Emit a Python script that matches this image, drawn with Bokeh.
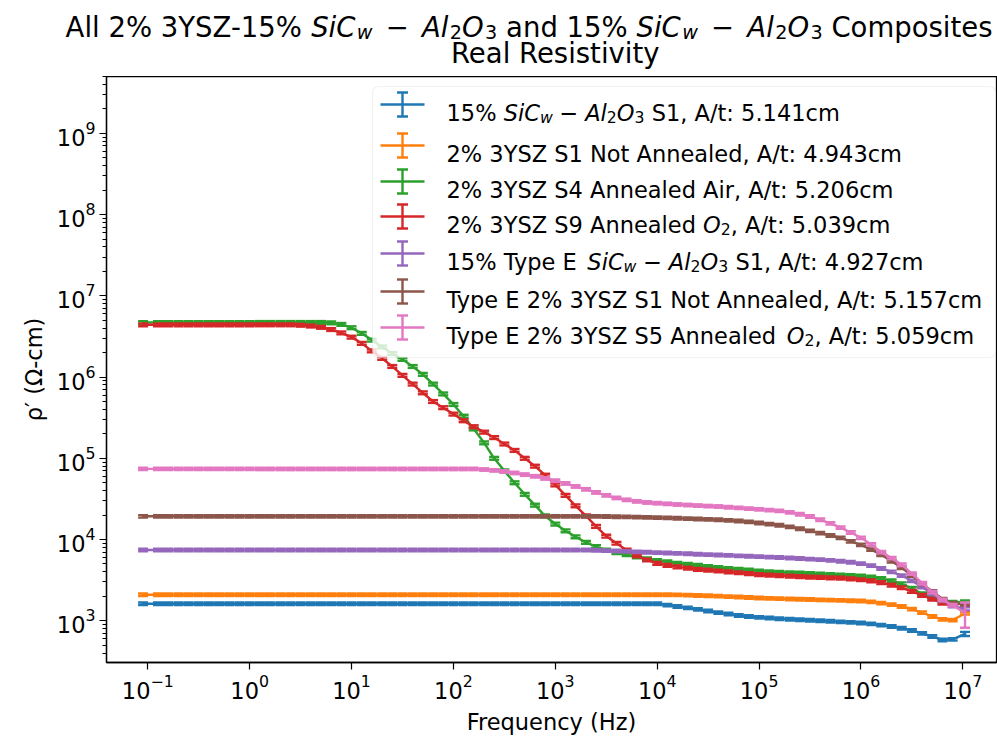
from bokeh.plotting import figure
from bokeh.layouts import column
from bokeh.models import FixedTicker, Label, BoxAnnotation, Arrow, TeeHead, Range1d, LogTickFormatter
from bokeh.embed import file_html
from bokeh.resources import INLINE

# ---------------- data ----------------
freq = [0.09, 0.126, 0.158, 0.2, 0.251, 0.316, 0.398, 0.501, 0.631, 0.794,
        1.0, 1.26, 1.58, 2.0, 2.51, 3.16, 3.98, 5.01, 6.31, 7.94,
        10, 12.6, 15.8, 20, 25.1, 31.6, 39.8, 50.1, 63.1, 79.4,
        100, 126, 158, 200, 251, 316, 398, 501, 631, 794,
        1e3, 1.26e3, 1.58e3, 2e3, 2.51e3, 3.16e3, 3.98e3, 5.01e3, 6.31e3, 7.94e3,
        1e4, 1.26e4, 1.58e4, 2e4, 2.51e4, 3.16e4, 3.98e4, 5.01e4, 6.31e4, 7.94e4,
        1e5, 1.26e5, 1.58e5, 2e5, 2.51e5, 3.16e5, 3.98e5, 5.01e5, 6.31e5, 7.94e5,
        1e6, 1.26e6, 1.58e6, 2e6, 2.51e6, 3.16e6, 3.98e6, 5.01e6, 6.31e6, 7.94e6,
        1.05e7]

rho_sic_s1 = [1620, 1620, 1620, 1620, 1620, 1620, 1620, 1620, 1620, 1620,
              1620, 1620, 1620, 1620, 1620, 1620, 1620, 1620, 1620, 1620,
              1620, 1620, 1620, 1620, 1620, 1620, 1620, 1620, 1620, 1620,
              1620, 1620, 1620, 1620, 1620, 1620, 1620, 1620, 1620, 1620,
              1620, 1620, 1620, 1620, 1620, 1620, 1620, 1620, 1620, 1620,
              1620, 1560, 1500, 1440, 1380, 1320, 1260, 1210, 1160, 1130,
              1100, 1080, 1060, 1045, 1030, 1015, 1000, 985, 970, 955,
              940, 915, 885, 850, 810, 760, 700, 640, 580, 590,
              690]

rho_ysz_s1 = [2090, 2090, 2090, 2090, 2090, 2090, 2090, 2090, 2090, 2090,
              2090, 2090, 2090, 2090, 2090, 2090, 2090, 2090, 2090, 2090,
              2090, 2090, 2090, 2090, 2090, 2090, 2090, 2090, 2090, 2090,
              2090, 2090, 2090, 2090, 2090, 2090, 2090, 2090, 2090, 2090,
              2090, 2090, 2090, 2090, 2090, 2090, 2090, 2090, 2090, 2090,
              2090, 2090, 2080, 2065, 2050, 2030, 2010, 1985, 1960, 1935,
              1910, 1890, 1870, 1855, 1840, 1825, 1810, 1795, 1780, 1765,
              1750, 1710, 1650, 1580, 1500, 1390, 1260, 1130, 1040, 1020,
              1230]

rho_ysz_s4 = [4.7e6, 4.7e6, 4.7e6, 4.7e6, 4.7e6, 4.7e6, 4.7e6, 4.7e6, 4.7e6, 4.7e6,
              4.7e6, 4.7e6, 4.7e6, 4.7e6, 4.7e6, 4.7e6, 4.7e6, 4.7e6, 4.65e6, 4.45e6,
              4.05e6, 3.45e6, 2.85e6, 2.35e6, 1.95e6, 1.65e6, 1.35e6, 1.08e6, 8.2e5, 6.2e5,
              4.6e5, 3.3e5, 2.3e5, 1.55e5, 1.0e5, 7.0e4, 5.0e4, 3.6e4, 2.65e4, 1.95e4,
              1.55e4, 1.28e4, 1.08e4, 9.2e3, 8.2e3, 7.4e3, 6.9e3, 6.5e3, 6.1e3, 5.8e3,
              5.5e3, 5.3e3, 5.1e3, 4.95e3, 4.8e3, 4.65e3, 4.5e3, 4.4e3, 4.3e3, 4.2e3,
              4.1e3, 4.0e3, 3.95e3, 3.9e3, 3.85e3, 3.8e3, 3.75e3, 3.7e3, 3.65e3, 3.6e3,
              3.55e3, 3.45e3, 3.3e3, 3.1e3, 2.85e3, 2.5e3, 2.15e3, 1.9e3, 1.7e3, 1.68e3,
              1.72e3]

rho_ysz_s9 = [4.4e6, 4.4e6, 4.4e6, 4.4e6, 4.4e6, 4.4e6, 4.4e6, 4.4e6, 4.4e6, 4.4e6,
              4.4e6, 4.4e6, 4.4e6, 4.4e6, 4.4e6, 4.35e6, 4.25e6, 4.1e6, 3.85e6, 3.5e6,
              3.1e6, 2.6e6, 2.1e6, 1.7e6, 1.35e6, 1.05e6, 8.2e5, 6.4e5, 5.0e5, 4.2e5,
              3.5e5, 2.9e5, 2.45e5, 2.1e5, 1.8e5, 1.5e5, 1.25e5, 1.0e5, 8.0e4, 6.2e4,
              4.7e4, 3.5e4, 2.6e4, 1.95e4, 1.45e4, 1.1e4, 9.0e3, 7.4e3, 6.3e3, 5.6e3,
              5.1e3, 4.8e3, 4.6e3, 4.45e3, 4.3e3, 4.2e3, 4.1e3, 4.0e3, 3.9e3, 3.8e3,
              3.7e3, 3.65e3, 3.6e3, 3.55e3, 3.5e3, 3.45e3, 3.42e3, 3.38e3, 3.34e3, 3.28e3,
              3.2e3, 3.1e3, 2.95e3, 2.75e3, 2.55e3, 2.3e3, 2.05e3, 1.85e3, 1.65e3, 1.6e3,
              1.6e3]

rho_typeE_sic = [7440, 7440, 7440, 7440, 7440, 7440, 7440, 7440, 7440, 7440,
                 7440, 7440, 7440, 7440, 7440, 7440, 7440, 7440, 7440, 7440,
                 7440, 7440, 7440, 7440, 7440, 7440, 7440, 7440, 7440, 7440,
                 7440, 7440, 7440, 7440, 7440, 7440, 7440, 7440, 7440, 7440,
                 7440, 7440, 7440, 7440, 7380, 7300, 7220, 7140, 7060, 6980,
                 6900, 6820, 6750, 6680, 6600, 6530, 6450, 6380, 6300, 6220,
                 6150, 6080, 6000, 5920, 5850, 5750, 5650, 5530, 5400, 5250,
                 5050, 4780, 4400, 4000, 3600, 3100, 2600, 2150, 1780, 1520,
                 1400]

rho_typeE_s1 = [19300, 19300, 19300, 19300, 19300, 19300, 19300, 19300, 19300, 19300,
                19300, 19300, 19300, 19300, 19300, 19300, 19300, 19300, 19300, 19300,
                19300, 19300, 19300, 19300, 19300, 19300, 19300, 19300, 19300, 19300,
                19300, 19300, 19300, 19300, 19300, 19300, 19300, 19300, 19300, 19300,
                19300, 19300, 19300, 19300, 19300, 19200, 19100, 19000, 18900, 18750,
                18600, 18450, 18300, 18100, 17900, 17700, 17500, 17200, 16900, 16500,
                16000, 15500, 15000, 14300, 13600, 12800, 12000, 11200, 10500, 9500,
                8600, 7500, 6500, 5400, 4500, 3600, 2850, 2300, 1850, 1650,
                1600]

rho_typeE_s5 = [74000, 74000, 74000, 74000, 74000, 74000, 74000, 74000, 74000, 74000,
                74000, 74000, 74000, 74000, 74000, 74000, 74000, 74000, 74000, 74000,
                74000, 74000, 74000, 74000, 74000, 74000, 74000, 74000, 74000, 74000,
                74000, 74000, 74000, 72800, 71000, 68800, 66000, 63000, 60000, 56500,
                53000, 49000, 45000, 41500, 38000, 35000, 32500, 30800, 29500, 28600,
                28000, 27500, 27000, 26600, 26200, 25800, 25500, 25000, 24500, 24000,
                23500, 23000, 22500, 21600, 20500, 19200, 17500, 15800, 14000, 12200,
                10500, 8700, 7000, 5900, 4900, 3800, 2900, 2250, 1800, 1550,
                1250]

# relative error of each series, and absolute error of its last point
rel_err = [0.035, 0.035, 0.04, 0.04, 0.035, 0.035, 0.035]
last_err = [40, 40, 60, 60, 60, 60, 430]

colors = ["#1f77b4", "#ff7f0e", "#2ca02c", "#d62728", "#9467bd", "#8c564b", "#e377c2"]
series_values = [rho_sic_s1, rho_ysz_s1, rho_ysz_s4, rho_ysz_s9, rho_typeE_sic, rho_typeE_s1, rho_typeE_s5]

x_major = [0.1, 1, 10, 100, 1e3, 1e4, 1e5, 1e6, 1e7]
y_major = [1e3, 1e4, 1e5, 1e6, 1e7, 1e8, 1e9]

# ---------------- layout ----------------
WIDTH, HEIGHT = 997, 742
FL, FT, FR, FB = 106, 76, 996, 662
FONT = "DejaVu Sans"
TICK_PX = 22.5
LEG_PX = 22.5
TITLE_PX = 27.5
LW = 2.4

# title strip (rich text) above the plot, its frame spanning the full width
tf = figure(width=WIDTH, height=FT, x_range=Range1d(0, 1), y_range=Range1d(0, 1),
            x_axis_location=None, y_axis_location=None, output_backend="svg",
            toolbar_location=None, min_border=0)
tf.grid.visible = False
tf.outline_line_color = None
tf.background_fill_color = "white"
tf.border_fill_color = "white"

p = figure(width=WIDTH, height=HEIGHT - FT, x_axis_type="log", y_axis_type="log",
           x_range=Range1d(10 ** -1.405, 10 ** 7.33), y_range=Range1d(10 ** 2.486, 10 ** 9.70),
           output_backend="svg", toolbar_location=None,
           min_border_left=FL, min_border_right=WIDTH - FR,
           min_border_top=0, min_border_bottom=HEIGHT - FB)
TITLE_X_OFF = FL
if "frame_align" in tf.properties():
    tf.frame_align = False
    p.frame_align = False
    TITLE_X_OFF = 0
else:
    tf.min_border_left = FL
    tf.min_border_right = WIDTH - FR

p.grid.visible = False
p.outline_line_color = "black"
p.outline_line_width = 1.3
p.background_fill_color = "white"
p.border_fill_color = "white"

y_minor = [m * t for t in [1e2, 1e3, 1e4, 1e5, 1e6, 1e7, 1e8, 1e9] for m in range(2, 10)]
p.xaxis.ticker = FixedTicker(ticks=x_major, minor_ticks=[])
p.yaxis.ticker = FixedTicker(ticks=y_major, minor_ticks=y_minor)
for ax in (p.xaxis[0], p.yaxis[0]):
    ax.formatter = LogTickFormatter()
    ax.axis_line_width = 1.3
    ax.axis_line_color = "black"
    ax.major_tick_line_color = "black"
    ax.major_tick_line_width = 1.2
    ax.major_tick_out = 7
    ax.major_tick_in = 0
    ax.minor_tick_line_color = "black"
    ax.minor_tick_line_width = 1.0
    ax.minor_tick_out = 4
    ax.minor_tick_in = 0
    ax.major_label_text_font = FONT
    ax.major_label_text_font_size = f"{TICK_PX}px"
    ax.major_label_text_color = "black"
    ax.major_label_standoff = 4
    ax.axis_label_text_font = FONT
    ax.axis_label_text_font_size = f"{TICK_PX}px"
    ax.axis_label_text_font_style = "normal"
    ax.axis_label_text_color = "black"
    ax.axis_label_standoff = 7
p.xaxis.axis_label = "Frequency (Hz)"
p.yaxis.axis_label = "ρ′ (Ω-cm)"

# ---------------- data glyphs (line + error bars with caps) ----------------
for k, (vals, col) in enumerate(zip(series_values, colors)):
    errs = [v * rel_err[k] for v in vals]
    errs[-1] = last_err[k]
    up = [v + e for v, e in zip(vals, errs)]
    lo = [v - e for v, e in zip(vals, errs)]
    p.line(freq, vals, line_color=col, line_width=LW)
    p.segment(x0=freq, y0=lo, x1=freq, y1=up, line_color=col, line_width=LW)
    p.scatter(x=freq, y=up, marker="dash", size=10, line_color=col, line_width=LW)
    p.scatter(x=freq, y=lo, marker="dash", size=10, line_color=col, line_width=LW)

# ---------------- rich text helpers (matplotlib mathtext look) ----------------
EM = {" ": .318, "%": .950, "-": .361, ".": .318, ",": .318, "/": .337, ":": .337,
      "(": .390, ")": .390, "A": .684, "C": .698, "E": .632, "N": .748, "O": .787,
      "R": .695, "S": .635, "T": .611, "Y": .611, "Z": .685, "a": .613, "c": .550,
      "d": .635, "e": .615, "i": .278, "l": .278, "m": .974, "n": .634, "o": .612,
      "p": .635, "r": .411, "s": .521, "t": .392, "v": .592, "w": .818, "y": .592,
      "−": .838, "u": .634, "q": .635, "z": .525, "H": .752, "F": .575}
for d in "0123456789":
    EM[d] = .636


def text_w(s, size):
    return sum(EM.get(ch, .6) for ch in s) * size


def piece_w(pieces, F):
    w = 0
    for pc in pieces:
        if isinstance(pc, (int, float)):
            w += pc * F
        else:
            w += text_w(pc[0], F * pc[2])
    return w


def rich(fig, x_off, to_y, X0, Y, pieces, F):
    """Place text pieces left to right; X, Y are canvas pixels (baseline)."""
    x = X0
    for pc in pieces:
        if isinstance(pc, (int, float)):
            x += pc * F
            continue
        txt, italic, scale, dy = pc
        size = F * scale
        fig.add_layout(Label(x=x - x_off, y=to_y(Y - dy * F),
                             x_units="screen", y_units="screen", text=txt,
                             text_font=FONT, text_font_size=f"{size:.1f}px",
                             text_font_style="italic" if italic else "normal",
                             text_align="left", text_baseline="alphabetic", text_color="black"))
        x += text_w(txt, size)


def T(s):
    return (s, False, 1, 0)


SUB = -0.2
SP = 0.318


def sical(gap, italic_corr):
    return [("SiC", True, 1, 0), italic_corr, ("w", True, 0.7, SUB), gap, ("−", False, 1, 0), gap,
            ("Al", True, 1, 0), italic_corr, ("2", False, 0.7, SUB), ("O", True, 1, 0), italic_corr,
            ("3", False, 0.7, SUB)]


O2 = [("O", True, 1, 0), ("2", False, 0.7, SUB)]

# ---------------- title ----------------
TSICAL = sical(0.48, 0.05)
title1 = [T("All 2% 3YSZ-15%"), SP] + TSICAL + [SP, T("and 15%"), SP] + TSICAL + [SP, T("Composites")]
title2 = [T("Real Resistivity")]
title_y = lambda Y: FT - Y
T1_RIGHT = 992
rich(tf, TITLE_X_OFF, title_y, T1_RIGHT - piece_w(title1, TITLE_PX), 26, title1, TITLE_PX)
rich(tf, TITLE_X_OFF, title_y, 556 - piece_w(title2, TITLE_PX) / 2, 52, title2, TITLE_PX)

# ---------------- legend ----------------
LSICAL = sical(0.3, 0.0)
legend_rows = [
    [T("15%"), SP] + LSICAL + [SP, T("S1, A/t: 5.141cm")],
    [T("2% 3YSZ S1 Not Annealed, A/t: 4.943cm")],
    [T("2% 3YSZ S4 Annealed Air, A/t: 5.206cm")],
    [T("2% 3YSZ S9 Annealed"), SP] + O2 + [T(", A/t: 5.039cm")],
    [T("15% Type E"), SP] + LSICAL + [SP, T("S1, A/t: 4.927cm")],
    [T("Type E 2% 3YSZ S1 Not Annealed, A/t: 5.157cm")],
    [T("Type E 2% 3YSZ S5 Annealed"), SP] + O2 + [T(", A/t: 5.059cm")],
]
row_y = [104, 145, 181, 216, 253, 291, 327]
LB_L, LB_R, LB_T, LB_B = 372, 995, 86, 357
p.add_layout(BoxAnnotation(left=LB_L - FL, right=LB_R - FL, top=FB - LB_T, bottom=FB - LB_B,
                           left_units="screen", right_units="screen",
                           top_units="screen", bottom_units="screen",
                           fill_color="white", fill_alpha=0.8,
                           line_color="#d5d5d5", line_width=1.2, border_radius=6))
H_X0, H_X1, H_XC, TXT_X = 380, 424, 402, 446
plot_y = lambda Y: FB - Y
for yc, col, row in zip(row_y, colors, legend_rows):
    p.add_layout(Arrow(x_start=H_X0 - FL, y_start=FB - yc, x_end=H_X1 - FL, y_end=FB - yc,
                       start_units="screen", end_units="screen", start=None, end=None,
                       line_color=col, line_width=LW))
    p.add_layout(Arrow(x_start=H_XC - FL, y_start=FB - (yc + 12), x_end=H_XC - FL, y_end=FB - (yc - 12),
                       start_units="screen", end_units="screen",
                       start=TeeHead(size=11, line_color=col, line_width=LW),
                       end=TeeHead(size=11, line_color=col, line_width=LW),
                       line_color=col, line_width=LW))
    rich(p, FL, plot_y, TXT_X, yc + 8, row, LEG_PX)

layout = column(tf, p, spacing=0)
open("out.html", "w").write(file_html(layout, INLINE))
